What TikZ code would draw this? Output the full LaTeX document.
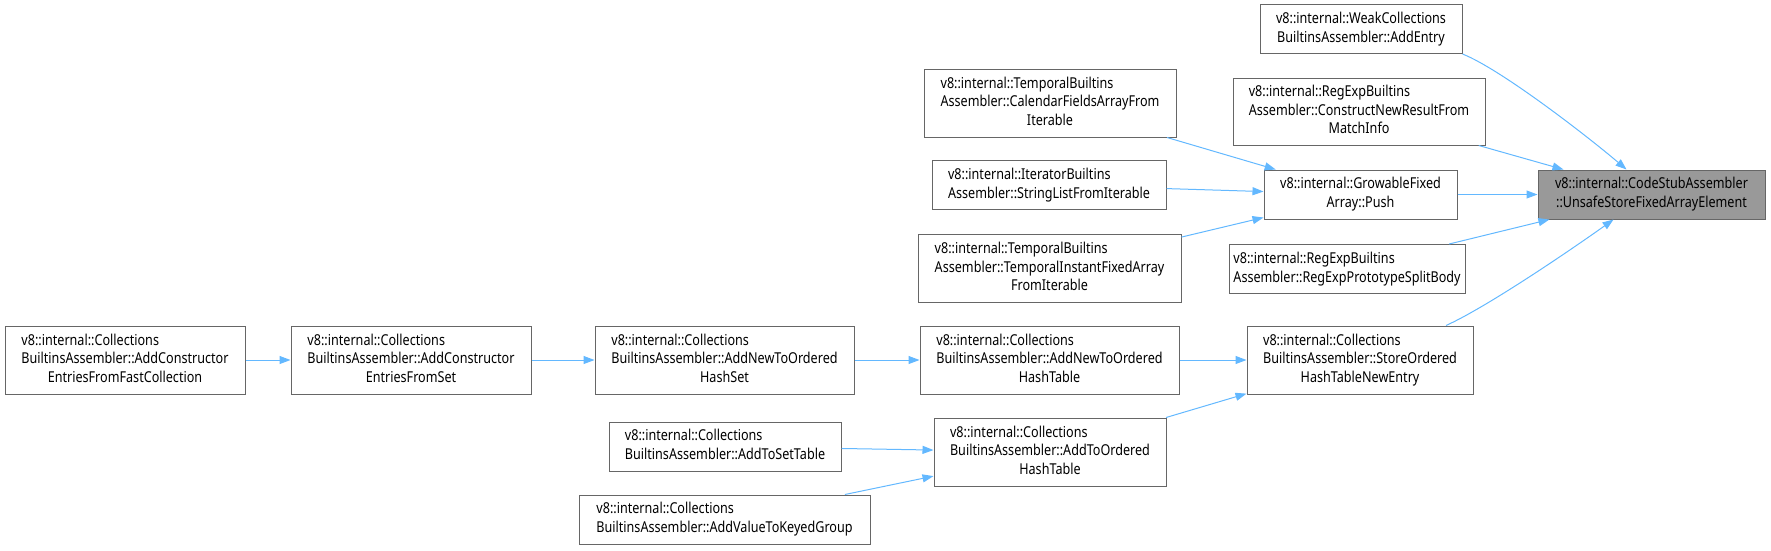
\documentclass[tikz,border=0pt]{standalone}
\usepackage{fontspec}
\setmainfont{Noto Sans}[FakeStretch=0.84]
\usetikzlibrary{arrows.meta}
\definecolor{edgeblue}{RGB}{99,184,255}
\definecolor{boxgray}{RGB}{102,102,102}
\definecolor{focusgray}{RGB}{153,153,153}
% last line of a label is centred, the others flush left
\newcommand{\twolines}[2]{\begin{tabular}{@{}l@{}}#1\\\multicolumn{1}{@{}c@{}}{#2}\end{tabular}}
\newcommand{\threelines}[3]{\begin{tabular}{@{}l@{}}#1\\#2\\\multicolumn{1}{@{}c@{}}{#3}\end{tabular}}

\begin{document}
\begin{tikzpicture}[x=1pt, y=-1pt,
  fnbox/.style={draw=boxgray, line width=1pt, fill=white, inner sep=0pt,
    font=\fontsize{15}{18.7}\selectfont},
  focusbox/.style={fnbox, fill=focusgray},
  callarrow/.style={draw=edgeblue, line width=1pt, -{Triangle[length=11pt,width=8pt]}}]
  \useasboundingbox (0,0) rectangle (1771,550);

  % Called function
  \node[focusbox, minimum width=227, minimum height=49] (codestub) at (1651.5,194.5)
    {\twolines{v8::internal::CodeStubAssembler}{::UnsafeStoreFixedArrayElement}};

  % Direct callers
  \node[fnbox, minimum width=202, minimum height=49] (weak) at (1361,29)
    {\twolines{v8::internal::WeakCollections}{BuiltinsAssembler::AddEntry}};
  \node[fnbox, minimum width=252, minimum height=67] (construct) at (1359,111.5)
    {\threelines{v8::internal::RegExpBuiltins}{Assembler::ConstructNewResultFrom}{MatchInfo}};
  \node[fnbox, minimum width=193, minimum height=49] (push) at (1360.5,194.5)
    {\twolines{v8::internal::GrowableFixed}{Array::Push}};
  \node[fnbox, minimum width=236, minimum height=49] (split) at (1347,269)
    {\twolines{v8::internal::RegExpBuiltins}{Assembler::RegExpPrototypeSplitBody}};
  \node[fnbox, minimum width=226, minimum height=68] (storeentry) at (1360,360)
    {\threelines{v8::internal::Collections}{BuiltinsAssembler::StoreOrdered}{HashTableNewEntry}};

  % Callers of Push
  \node[fnbox, minimum width=252, minimum height=68] (calendar) at (1050,103)
    {\threelines{v8::internal::TemporalBuiltins}{Assembler::CalendarFieldsArrayFrom}{Iterable}};
  \node[fnbox, minimum width=234, minimum height=49] (stringlist) at (1049,185)
    {\twolines{v8::internal::IteratorBuiltins}{Assembler::StringListFromIterable}};
  \node[fnbox, minimum width=263, minimum height=68] (instant) at (1049.5,268.5)
    {\threelines{v8::internal::TemporalBuiltins}{Assembler::TemporalInstantFixedArray}{FromIterable}};

  % Callers of StoreOrderedHashTableNewEntry
  \node[fnbox, minimum width=259, minimum height=68] (hashtable) at (1049.5,360)
    {\threelines{v8::internal::Collections}{BuiltinsAssembler::AddNewToOrdered}{HashTable}};
  \node[fnbox, minimum width=232, minimum height=68] (toordered) at (1050,452)
    {\threelines{v8::internal::Collections}{BuiltinsAssembler::AddToOrdered}{HashTable}};
  \node[fnbox, minimum width=259, minimum height=68] (hashset) at (724.5,360)
    {\threelines{v8::internal::Collections}{BuiltinsAssembler::AddNewToOrdered}{HashSet}};
  \node[fnbox, minimum width=232, minimum height=49] (settable) at (725,446.5)
    {\twolines{v8::internal::Collections}{BuiltinsAssembler::AddToSetTable}};
  \node[fnbox, minimum width=291, minimum height=49] (keyedgroup) at (724.5,519.5)
    {\twolines{v8::internal::Collections}{BuiltinsAssembler::AddValueToKeyedGroup}};
  \node[fnbox, minimum width=240, minimum height=68] (fromset) at (411,360)
    {\threelines{v8::internal::Collections}{BuiltinsAssembler::AddConstructor}{EntriesFromSet}};
  \node[fnbox, minimum width=240, minimum height=68] (fastcoll) at (125,360)
    {\threelines{v8::internal::Collections}{BuiltinsAssembler::AddConstructor}{EntriesFromFastCollection}};

  % Calls
  \draw[callarrow] (weak.south east) .. controls +(38,15) and +(-40,-34) .. ([xshift=-25pt]codestub.north);
  \draw[callarrow] (construct) -- (codestub);
  \draw[callarrow] (push) -- (codestub);
  \draw[callarrow] (split) -- (codestub);
  \draw[callarrow] ([xshift=86pt]storeentry.north) .. controls +(40,-18) and +(-45,32) .. ([xshift=-38pt]codestub.south);
  \draw[callarrow] (calendar) -- (push);
  \draw[callarrow] (stringlist) -- (push);
  \draw[callarrow] (instant) -- (push);
  \draw[callarrow] (hashtable) -- (storeentry);
  \draw[callarrow] (toordered) -- (storeentry);
  \draw[callarrow] (hashset) -- (hashtable);
  \draw[callarrow] (settable) -- (toordered);
  \draw[callarrow] (keyedgroup) -- (toordered);
  \draw[callarrow] (fromset) -- (hashset);
  \draw[callarrow] (fastcoll) -- (fromset);
\end{tikzpicture}
\end{document}
